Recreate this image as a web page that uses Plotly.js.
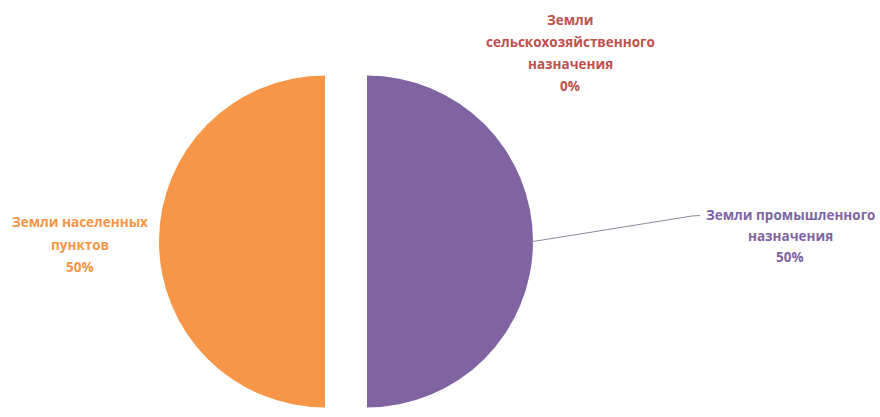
<!DOCTYPE html>
<html><head><meta charset="utf-8">
<script src="https://cdn.plot.ly/plotly-3.0.1.min.js"></script>
<style>html,body{margin:0;padding:0;background:#fff;overflow:hidden;width:880px;height:417px}#chart{width:880px;height:483px}</style>
</head><body><div id="chart"></div>
<script>
// ---- data ----
const categories = ['Земли сельскохозяйственного назначения', 'Земли промышленного назначения', 'Земли населенных пунктов'];
const labelLines = [['Земли', 'сельскохозяйственного', 'назначения'], ['Земли промышленного', 'назначения'], ['Земли населенных', 'пунктов']];
const values = [0, 50, 50];
const colors = ['#C0504D', '#8064A2', '#F79646'];

// ---- layout helpers ----
const W = 880, H = 483;
const px = x => x / W, py = y => 1 - y / H;
const R = 166, CX = 346, CY = H / 2, GAP = 21;
const pull = GAP / R;
const half = R * (1 + pull);

const total = values.reduce((a, b) => a + b, 0);
const pct = values.map(v => Math.round(v / total * 100) + '%');

// label placement (pixel centres and first-line y, line step)
const labelPos = [
  {x: 570, y: 20, step: 22},
  {x: 790, y: 215, step: 21},
  {x: 80, y: 222, step: 22.5}
];

const annotations = [];
categories.forEach((c, i) => {
  const lines = labelLines[i].concat([pct[i]]);
  lines.forEach((t, j) => {
    annotations.push({
      text: '<b>' + t + '</b>', showarrow: false,
      xref: 'paper', yref: 'paper',
      x: px(labelPos[i].x), y: py(labelPos[i].y + j * labelPos[i].step),
      xanchor: 'center', yanchor: 'middle',
      font: {family: '"Open Sans", sans-serif', size: 13.5, color: colors[i]}
    });
  });
});

const trace = {
  type: 'pie',
  labels: categories,
  values: values,
  marker: {colors: colors, line: {width: 0}},
  sort: false,
  direction: 'clockwise',
  rotation: 0,
  pull: [0, pull, pull],
  textinfo: 'none',
  hoverinfo: 'label+percent',
  showlegend: false,
  domain: {x: [px(CX - half), px(CX + half)], y: [0, 1]}
};

const edgeX = CX + GAP + R;
const layout = {
  width: W, height: H,
  margin: {l: 0, r: 0, t: 0, b: 0},
  paper_bgcolor: '#ffffff', plot_bgcolor: '#ffffff',
  showlegend: false,
  annotations: annotations,
  shapes: [
    {type: 'line', xref: 'paper', yref: 'paper', x0: px(edgeX - 3), y0: py(242), x1: px(692), y1: py(216), line: {color: '#8a8a9a', width: 1}},
    {type: 'line', xref: 'paper', yref: 'paper', x0: px(692), y0: py(216), x1: px(700), y1: py(215.5), line: {color: '#8a8a9a', width: 1}}
  ]
};

Plotly.newPlot('chart', [trace], layout, {displayModeBar: false, staticPlot: true});
</script></body></html>
